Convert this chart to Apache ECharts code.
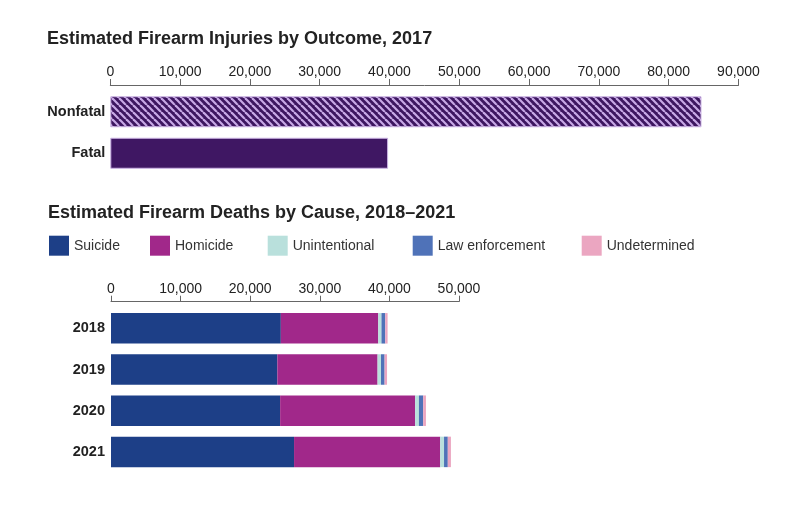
<!DOCTYPE html>
<html>
<head>
<meta charset="utf-8">
<script src="https://cdn.jsdelivr.net/npm/echarts@6/dist/echarts.min.js"></script>
<style>
html,body{margin:0;padding:0;background:#fff;}
#chart{width:799px;height:506px;}
</style>
</head>
<body>
<div id="chart"></div>
<script>
// ---- Data ----
var outcomeCategories = ['Nonfatal', 'Fatal'];
var outcomeValues = [84700, 39800];
var outcomeTicks = [0, 10000, 20000, 30000, 40000, 50000, 60000, 70000, 80000, 90000];

var years = ['2018', '2019', '2020', '2021'];
var causeNames = ['Suicide', 'Homicide', 'Unintentional', 'Law enforcement', 'Undetermined'];
var suicide = [24400, 23900, 24300, 26300];
var homicide = [14000, 14400, 19400, 21000];
var unintentional = [460, 490, 540, 550];
var lawEnforcement = [540, 520, 610, 540];
var undetermined = [340, 350, 400, 450];
var causeTicks = [0, 10000, 20000, 30000, 40000, 50000];

var causeValues = [suicide, homicide, unintentional, lawEnforcement, undetermined];
var causeColors = ['#1d3f87', '#a1288a', '#b9e0dc', '#4f72b8', '#eba6c1'];

var TEXT = '#222222';
var BODY_FONT = "'Liberation Sans', Arial, sans-serif";
var TITLE_FONT = "'Liberation Sans', Arial, sans-serif";

// stripe pattern for Nonfatal
var T = 7;
var pc = document.createElement('canvas');
pc.width = T; pc.height = T;
var ctx = pc.getContext('2d');
ctx.fillStyle = '#3d1660';
ctx.fillRect(0, 0, T, T);
ctx.strokeStyle = '#c8a9e6';
ctx.lineWidth = 2.2;
[-T, 0, T].forEach(function (k) {
  ctx.beginPath();
  ctx.moveTo(k, 0);
  ctx.lineTo(k + T, T);
  ctx.stroke();
});

var chart = echarts.init(document.getElementById('chart'), null, {renderer: 'canvas'});

function fmt(v) { return v === 0 ? '0' : echarts.format.addCommas(v); }

var axisCommon = function (gridIndex, max) {
  return {
    type: 'value', gridIndex: gridIndex, position: 'top', min: 0, max: max, interval: 10000,
    offset: 6,
    axisLine: {show: true, lineStyle: {color: '#666', width: 1}},
    axisTick: {show: true, length: 6, lineStyle: {color: '#666', width: 1}},
    axisLabel: {color: TEXT, fontFamily: BODY_FONT, fontSize: 14, margin: 6, formatter: fmt},
    splitLine: {show: false}
  };
};

var series = [{
  type: 'bar', xAxisIndex: 0, yAxisIndex: 0, barWidth: 31,
  data: [
    {value: outcomeValues[0], itemStyle: {color: {image: pc, repeat: 'repeat'}, borderColor: '#cbb3e3', borderWidth: 1}},
    {value: outcomeValues[1], itemStyle: {color: '#3f1763', borderColor: '#cbb3e3', borderWidth: 1}}
  ],
  silent: true
}];

causeNames.forEach(function (n, i) {
  series.push({
    name: n, type: 'bar', stack: 'cause', xAxisIndex: 1, yAxisIndex: 1, barWidth: 30.5,
    itemStyle: {color: causeColors[i]},
    data: causeValues[i],
    silent: true
  });
});

var legendLefts = [49, 150, 267.7, 412.7, 581.7];
var legends = causeNames.map(function (n, i) {
  return {
    data: [n], left: legendLefts[i], top: 235.7, padding: 0,
    itemWidth: 20, itemHeight: 20, icon: 'rect', itemGap: 0,
    textStyle: {color: '#333', fontFamily: BODY_FONT, fontSize: 14, padding: [0, 0, 0, 0]},
    selectedMode: false
  };
});

chart.setOption({
  animation: false,
  backgroundColor: '#fff',
  title: [
    {text: 'Estimated Firearm Injuries by Outcome, 2017', left: 47, top: 30, padding: 0,
     textStyle: {color: TEXT, fontFamily: TITLE_FONT, fontWeight: 'bold', fontSize: 18}},
    {text: 'Estimated Firearm Deaths by Cause, 2018–2021', left: 48, top: 204, padding: 0,
     textStyle: {color: TEXT, fontFamily: TITLE_FONT, fontWeight: 'bold', fontSize: 18}}
  ],
  legend: legends,
  grid: [
    {left: 110.3, width: 628.2, top: 91, height: 83},
    {left: 111, width: 348, top: 307.7, height: 164.8}
  ],
  xAxis: [axisCommon(0, 90000), axisCommon(1, 50000)],
  yAxis: [
    {type: 'category', gridIndex: 0, data: outcomeCategories, inverse: true,
     axisLine: {show: false}, axisTick: {show: false},
     axisLabel: {color: TEXT, fontFamily: BODY_FONT, fontWeight: 'bold', fontSize: 14.5, margin: 5}},
    {type: 'category', gridIndex: 1, data: years, inverse: true,
     axisLine: {show: false}, axisTick: {show: false},
     axisLabel: {color: TEXT, fontFamily: BODY_FONT, fontWeight: 'bold', fontSize: 14.5, margin: 6}}
  ],
  series: series
});
</script>
</body>
</html>
